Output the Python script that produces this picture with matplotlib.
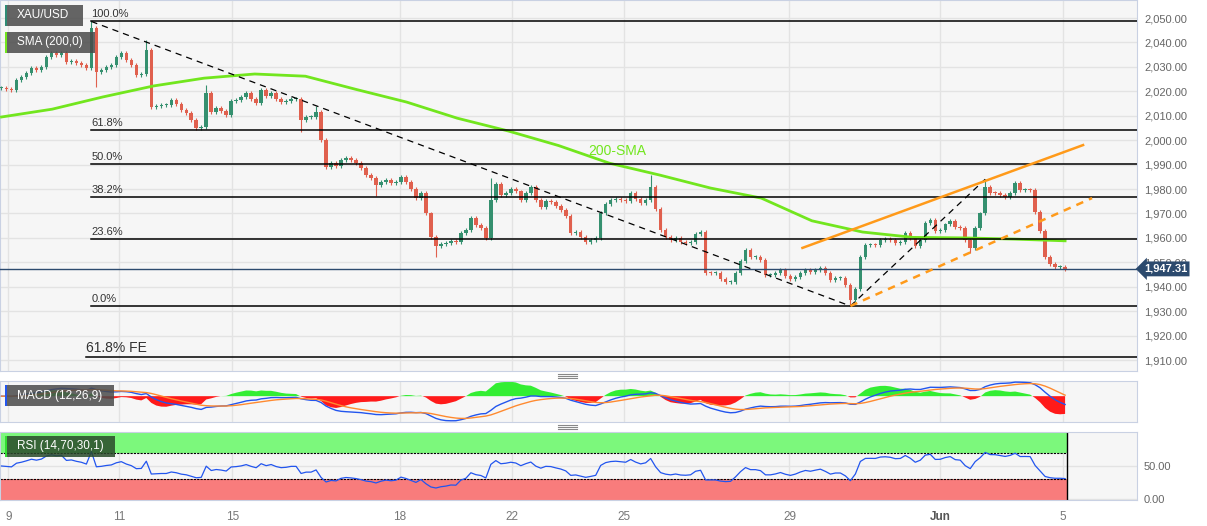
import numpy as np
import pandas as pd
import matplotlib.pyplot as plt
from matplotlib.lines import Line2D
from matplotlib.patches import Rectangle

plt.rcParams['font.family'] = ['Liberation Sans', 'DejaVu Sans']

# XAU/USD closes (about two hours per candle)
closes = [
    2021.5, 2021, 2020.5, 2024.6, 2025.8, 2027.5, 2029.5, 2028.7, 2030, 2034,
    2035.7, 2035, 2035.7, 2032, 2032.5, 2031.5, 2030.8, 2029.5, 2046, 2028,
    2028.7, 2030, 2030.8, 2034, 2035.7, 2032.8, 2030.8, 2026.7, 2027, 2037,
    2013.6, 2014, 2014.4, 2014.4, 2016.4, 2015, 2012.3, 2011, 2008.2, 2005,
    2005.4, 2019.3, 2011.5, 2013, 2012, 2010.3, 2016, 2016.5, 2017.5, 2019.3,
    2017, 2015.2, 2020.5, 2018, 2019.5, 2017, 2015.6, 2016, 2017, 2017,
    2008.2, 2009.5, 2009.5, 2011.5, 2000, 1989, 1990.6, 1989.4, 1991.9, 1992.7,
    1991.9, 1990.6, 1988.6, 1985.7, 1984.5, 1981.6, 1982.9, 1983.7, 1982.5, 1982.9,
    1984.9, 1983, 1980, 1976.5, 1978.4, 1970, 1960.4, 1956.5, 1957.5, 1958,
    1958.8, 1958.3, 1962, 1963.4, 1968.1, 1965.3, 1964, 1960, 1975.5, 1982,
    1977.5, 1978.4, 1980, 1979, 1975.5, 1978.4, 1980.8, 1975.5, 1972.6, 1975,
    1974.7, 1973, 1971.5, 1969, 1962, 1962.4, 1960.4, 1958.3, 1959.1, 1960,
    1970.2, 1974, 1975.5, 1976, 1975.5, 1975, 1978.4, 1976, 1974.3, 1975.5,
    1980.8, 1972, 1963.2, 1960.4, 1959.1, 1960, 1958.3, 1957.9, 1958.3, 1961.5,
    1962.4, 1945.6, 1945.5, 1945.5, 1943, 1941.8, 1942, 1945.6, 1950.5, 1955,
    1952.2, 1952.2, 1950.9, 1944.8, 1944.8, 1945.6, 1946.8, 1944.5, 1943, 1944,
    1945.6, 1946.8, 1946, 1946.8, 1947.5, 1945.5, 1942.8, 1943.5, 1943.5, 1940.7,
    1934.5, 1939, 1952.2, 1957, 1957.1, 1957, 1959.1, 1959.5, 1959.1, 1958,
    1958.3, 1962, 1960, 1956.8, 1959.1, 1966, 1967.3, 1963, 1963.2, 1965.5,
    1966.8, 1964.4, 1964, 1959.1, 1956, 1964, 1970, 1980.8, 1978.5, 1978.4,
    1977.5, 1976.7, 1978.5, 1982.5, 1979.5, 1979.6, 1979.5, 1970.6, 1963, 1952.2,
    1949.3, 1948, 1948, 1947.31,
]
# long wicks (candle number -> price)
spike_high = {18: 2048.6, 29: 2041, 41: 2022.6, 63: 2014, 98: 1984.5, 130: 1985.7, 197: 1984}
spike_low = {19: 2021.8, 60: 2003.3, 75: 1977, 87: 1952.2, 170: 1932.1, 194: 1954}

# 200-SMA, read every ten candles
sma200 = [2009.5, 2012.7, 2017.7, 2022.2, 2025.4, 2027.1, 2026.2, 2020.8, 2015.6, 2009,
          2003.8, 1997.8, 1990.6, 1985.7, 1980.4, 1976.3, 1967, 1962.4, 1960.2, 1960,
          1959.5, 1958.8]

fib_pcts = [1.0, 0.618, 0.5, 0.382, 0.236, 0.0]
fib_labels = ['100.0%', '61.8%', '50.0%', '38.2%', '23.6%', '0.0%']
fe_level = 1911.2

# rising channel drawn on the chart
upper_x = [160.4, 216.6]
upper_y = [1955.9, 1998.0]
lower_x = [170, 218.4]
lower_y = [1932.1, 1976.3]

tick_pos = [1.4, 23.6, 46.2, 79.8, 102.2, 124.6, 157.8, 188.0, 212.6]
tick_labels = ['9', '11', '15', '18', '22', '25', '29', 'Jun', '5']
price_ticks = np.arange(1910, 2051, 10)

W, H = 1207, 526
UP, DN = '#35906f', '#e0604e'
BG, GRID, EDGE = '#f6f6f6', '#e3e3e3', '#c9d1e3'
WICK = 0.8

fig = plt.figure(figsize=(W / 100, H / 100), dpi=100)
fig.patch.set_facecolor('white')


def panel(top, bottom):
    a = fig.add_axes([0, 1 - bottom / H, 1137 / W, (bottom - top) / H])
    a.set_facecolor(BG)
    for s in a.spines.values():
        s.set_color(EDGE)
    a.set_xlim(-0.3, 227.4)
    a.set_xticks(tick_pos)
    a.grid(True, color=GRID, lw=1)
    a.set_axisbelow(True)
    a.yaxis.tick_right()
    a.tick_params(length=0, labelsize=8, labelcolor='#666', pad=5)
    a.tick_params(axis='x', labelbottom=False)
    return a


ax = panel(0, 371)
ax_m = panel(381, 422)
ax_r = panel(432, 500)

# ---- price panel
c = np.array(closes)
o = np.r_[c[0], c[:-1]]
hi = np.maximum(o, c) + WICK
lo = np.minimum(o, c) - WICK
for k, v in spike_high.items():
    hi[k] = v
for k, v in spike_low.items():
    lo[k] = v
x = np.arange(len(c))
col = np.where(c >= o, UP, DN)
ax.vlines(x, lo, hi, colors=col, lw=0.8, zorder=3)
ax.bar(x, np.maximum(np.abs(c - o), 0.35), bottom=np.minimum(o, c), width=0.7,
       color=col, zorder=3)

ax.set_ylim(1905.5, 2057.4)
ax.set_yticks(price_ticks)
ax.set_yticklabels([f'{v:,.2f}' for v in price_ticks])

ax.plot(np.linspace(0, len(c) - 1, len(sma200)), sma200, color='#72e61e', lw=2, zorder=4)
ax.text(117.6, 1995.6, '200-SMA', color='#72e61e', fontsize=10, va='center', zorder=6)

# fibonacci retracement
i_hi = int(np.argmax(hi))
i_lo = int(np.argmin(lo))
f_hi, f_lo = hi[i_hi], lo[i_lo]
for p, lab in zip(fib_pcts, fib_labels):
    lv = f_lo + p * (f_hi - f_lo)
    ax.plot([i_hi, 227.4], [lv, lv], color='black', lw=1.1, zorder=5)
    ax.annotate(lab, (i_hi, lv), xytext=(0, 1.5), textcoords='offset points',
                fontsize=8, color='#333', va='bottom')
ax.plot([i_hi - 1, 227.4], [fe_level, fe_level], color='black', lw=1.1, zorder=5)
ax.annotate('61.8% FE', (i_hi - 1, fe_level), xytext=(0, 1.5), textcoords='offset points',
            fontsize=10, color='#333', va='bottom')

# trend lines
ax.plot([i_hi, i_lo], [f_hi, f_lo], color='black', lw=0.9, ls=(0, (5, 4)), zorder=5)
i_hi2 = i_lo + int(np.argmax(hi[i_lo:]))
ax.plot([i_lo, i_hi2], [f_lo, hi[i_hi2]], color='black', lw=0.9, ls=(0, (5, 4)), zorder=5)
ax.plot(upper_x, upper_y, color='#ff9a1a', lw=1.8, zorder=5)
ax.plot(lower_x, lower_y, color='#ff9a1a', lw=1.8, ls=(0, (3, 2.5)), zorder=5)

# last price
last = closes[-1]
ax.axhline(last, color='#2c4a6e', lw=1, zorder=4)
ax.text(1.006, last, f'{last:,.2f}', transform=ax.get_yaxis_transform(), ha='left',
        va='center', color='white', fontsize=8, fontweight='bold', clip_on=False, zorder=10,
        bbox=dict(boxstyle='larrow,pad=0.22', fc='#2c4a6e', ec='none'))

# ---- MACD (12,26,9)
s = pd.Series(closes)
macd = s.ewm(span=12, adjust=False).mean() - s.ewm(span=26, adjust=False).mean()
signal = macd.ewm(span=9, adjust=False).mean()
hist = (macd - signal).values
ax_m.fill_between(x, 0, hist, where=hist >= 0, color='#33ee33', lw=0, interpolate=True)
ax_m.fill_between(x, 0, hist, where=hist < 0, color='#ff1a1a', lw=0, interpolate=True)
kh = max(hist.max() / 0.37, -hist.min() / 0.63) * 1.05
ax_m.set_ylim(-0.63 * kh, 0.37 * kh)
ax_m.set_yticks([0])
ax_m.set_yticklabels(['-0.00'])
ax_m.grid(axis='y', visible=False)

ax_l = ax_m.twinx()
ax_l.plot(x, macd, color='#2255ee', lw=1)
ax_l.plot(x, signal, color='#ff8a30', lw=1)
km = max(max(macd.max(), signal.max()) / 0.37, -min(macd.min(), signal.min()) / 0.63) * 1.05
ax_l.set_ylim(-0.63 * km, 0.37 * km)
ax_l.set_yticks([])
ax_l.tick_params(labelbottom=False, labeltop=False, length=0)
for sp in ax_l.spines.values():
    sp.set_visible(False)

# ---- RSI (14,70,30,1), seeded with the average move so it starts neutral
d = s.diff()
seed = d.abs().mean() / 2
gain = d.clip(lower=0).fillna(seed).ewm(alpha=1 / 14, adjust=False).mean()
loss = (-d.clip(upper=0)).fillna(seed).ewm(alpha=1 / 14, adjust=False).mean()
rsi = 100 - 100 / (1 + gain / loss)
ax_r.set_ylim(-1.5, 101.5)
end = len(c) - 1 + 0.35
ax_r.fill_between([-0.3, end], 70, 101.5, color='#7cf87c', lw=0, zorder=1)
ax_r.fill_between([-0.3, end], -1.5, 30, color='#f87c7c', lw=0, zorder=1)
ax_r.plot([-0.3, end], [70, 70], color='black', lw=0.8, ls=(0, (2, 1)), zorder=2)
ax_r.plot([-0.3, end], [30, 30], color='black', lw=0.8, ls=(0, (2, 1)), zorder=2)
ax_r.plot([end, end], [-1.5, 101.5], color='black', lw=1, zorder=2)
ax_r.plot(x, rsi, color='#2255ee', lw=0.9, zorder=3)
ax_r.set_yticks([0, 50])
ax_r.set_yticklabels(['0.00', '50.00'])
ax_r.tick_params(axis='x', labelbottom=True, labelsize=8.5, labelcolor='#777', pad=8)
ax_r.set_xticklabels(tick_labels)
for t in ax_r.get_xticklabels():
    if t.get_text() == 'Jun':
        t.set_fontweight('bold')
        t.set_color('#555')


# ---- tags and grips
def tag(x0, y0, w, h, text, bar, fc='#4a4a4a'):
    fig.add_artist(Rectangle((x0 / W, 1 - (y0 + h) / H), w / W, h / H, transform=fig.transFigure,
                             fc=fc, ec='none', alpha=0.85, zorder=20))
    fig.add_artist(Rectangle((x0 / W, 1 - (y0 + h) / H), 2 / W, h / H, transform=fig.transFigure,
                             fc=bar, ec='none', zorder=21))
    fig.text((x0 + 12) / W, 1 - (y0 + h / 2) / H, text, color='white', fontsize=8.5,
             va='center', zorder=22)


tag(5, 5, 78, 21, 'XAU/USD', '#2e8b74')
tag(5, 32, 90, 21, 'SMA (200,0)', '#72e61e')
tag(5, 385, 109, 21, 'MACD (12,26,9)', '#2255ee')
tag(5, 436, 110, 21, 'RSI (14,70,30,1)', '#33dd33', fc='#2a4a2a')

for gy in (376, 427):
    for dy in (-2, 0, 2):
        fig.add_artist(Line2D([558 / W, 577 / W], [1 - (gy + dy) / H] * 2,
                              transform=fig.transFigure, color='#888', lw=0.8))

fig.savefig('out.png', dpi=100, facecolor='white')
